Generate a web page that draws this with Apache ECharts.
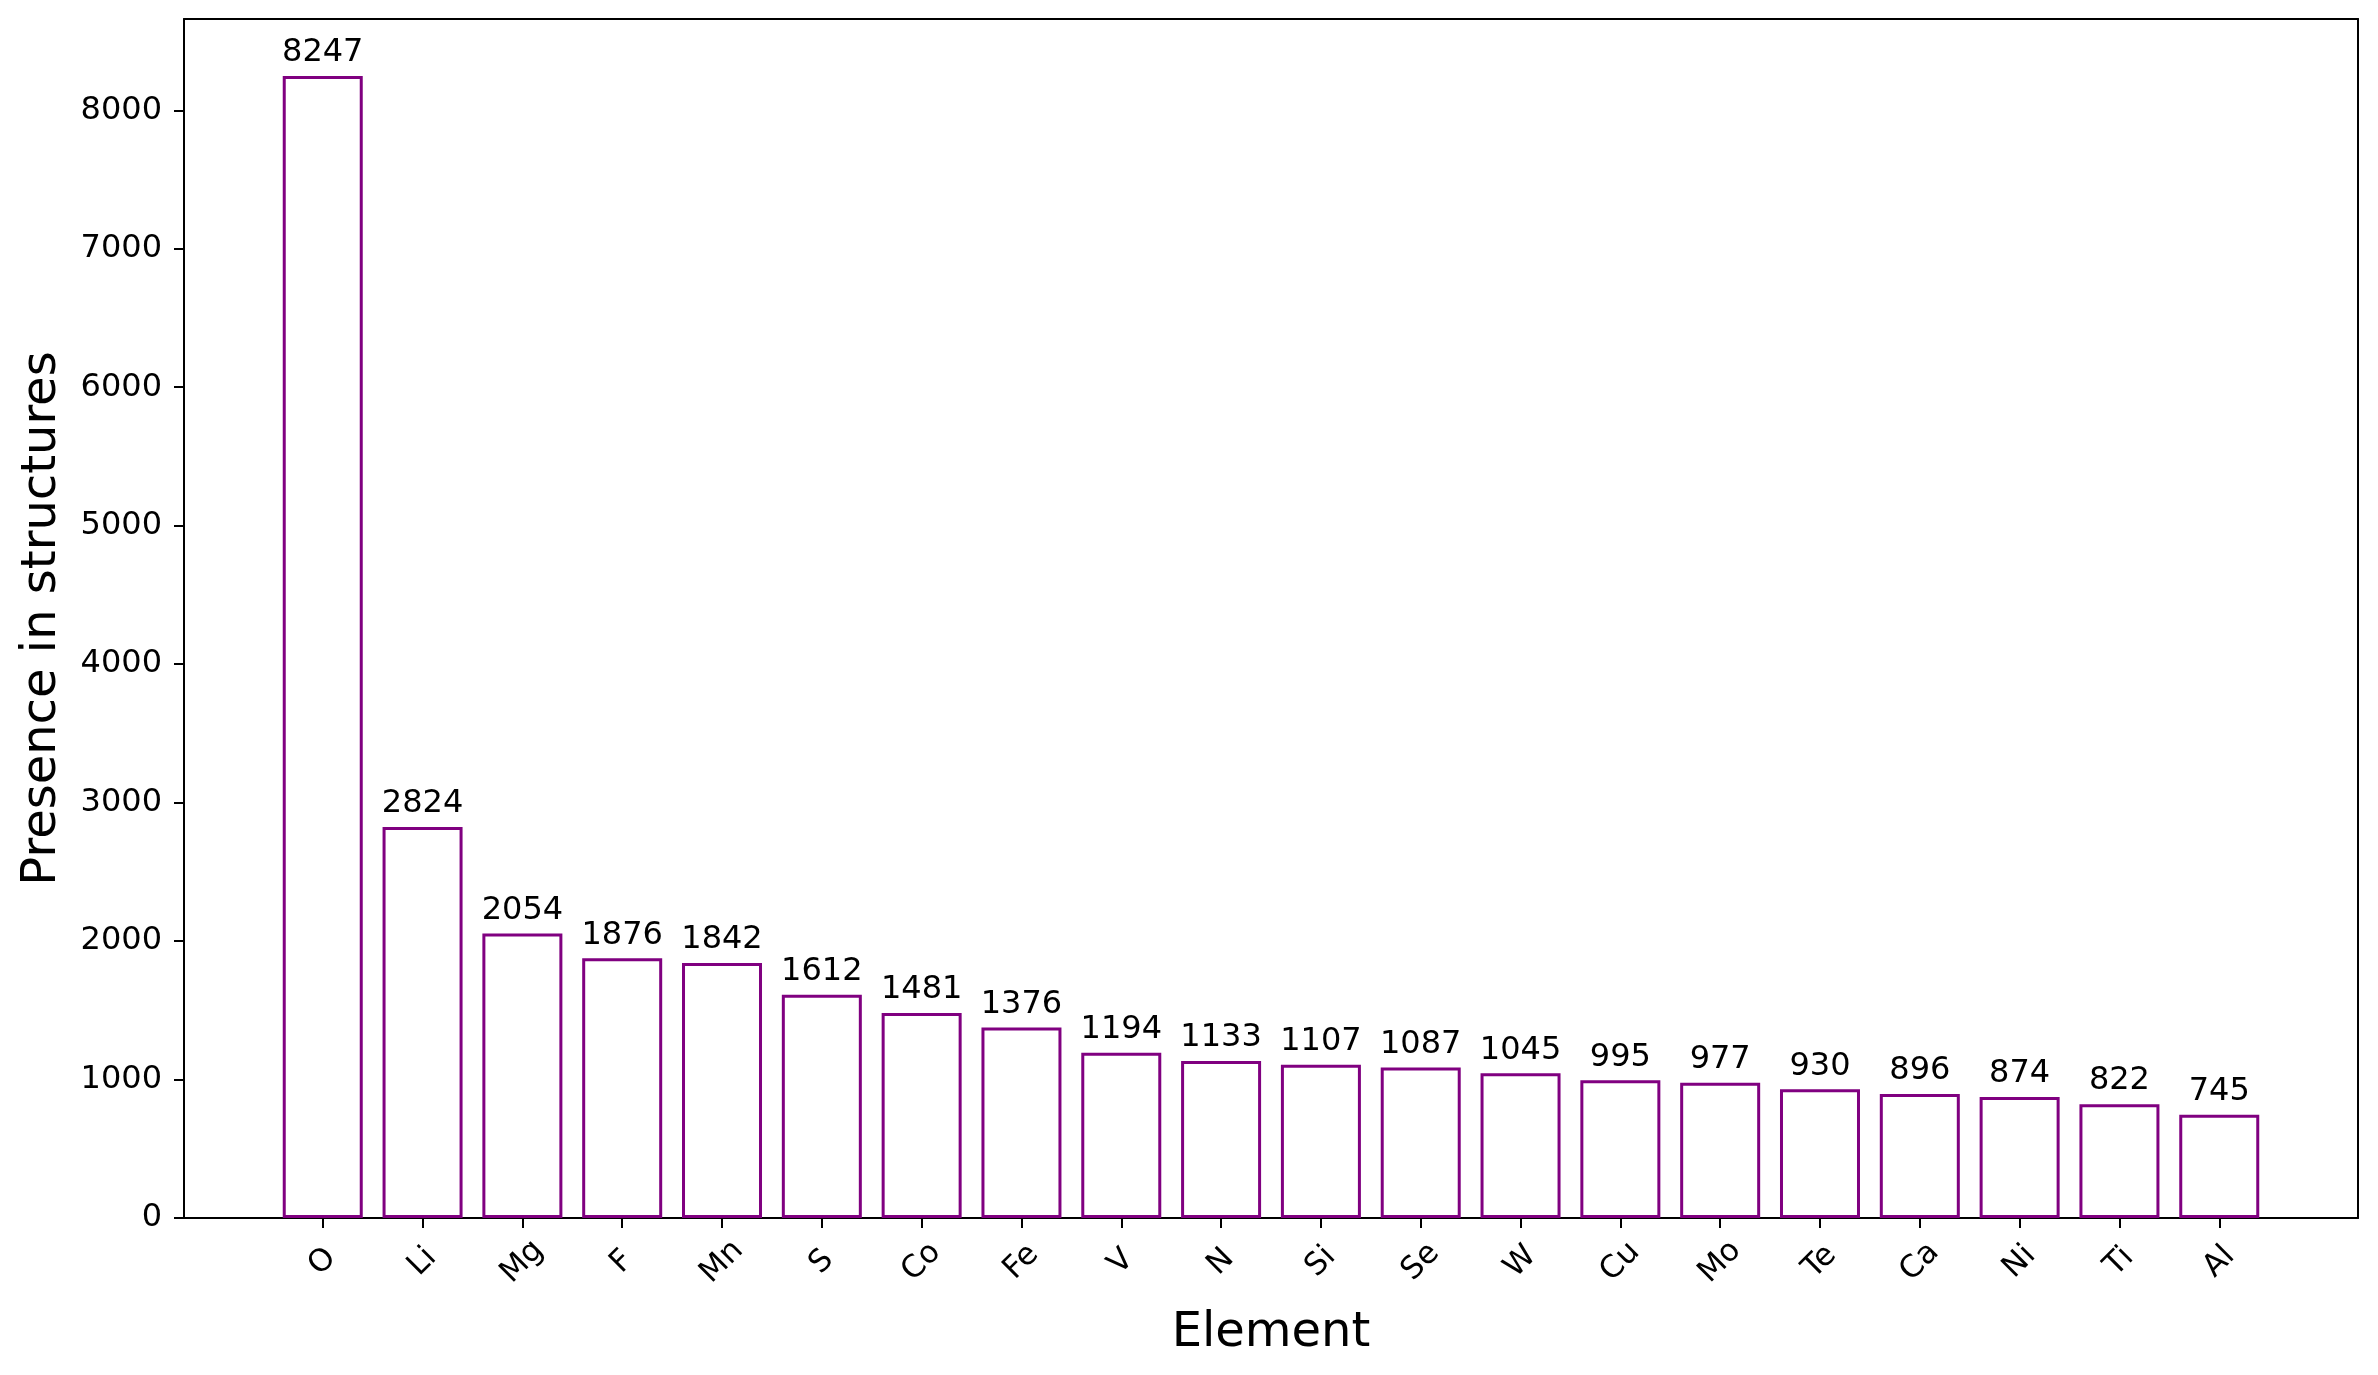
<!DOCTYPE html>
<html>
<head>
<meta charset="utf-8">
<script src="https://cdn.jsdelivr.net/npm/echarts@6/dist/echarts.min.js"></script>
<style>
  html, body { margin: 0; padding: 0; background: #fff; }
  #main { width: 2378px; height: 1375px; }
</style>
</head>
<body>
<div id="main"></div>
<script>
var elements = ['O', 'Li', 'Mg', 'F', 'Mn', 'S', 'Co', 'Fe', 'V', 'N', 'Si', 'Se', 'W', 'Cu', 'Mo', 'Te', 'Ca', 'Ni', 'Ti', 'Al'];
var counts = [8247, 2824, 2054, 1876, 1842, 1612, 1481, 1376, 1194, 1133, 1107, 1087, 1045, 995, 977, 930, 896, 874, 822, 745];
var yTicks = [0, 1000, 2000, 3000, 4000, 5000, 6000, 7000, 8000];

var chart = echarts.init(document.getElementById('main'));

var font = 'DejaVu Sans';
var idx = elements.map(function (e, i) { return i; });
var barData = counts.map(function (v, i) { return [i, v]; });
var yMax = Math.max.apply(null, counts) * 1.05;
var xMin = -1.39, xMax = elements.length - 1 + 1.39;

var option = {
    animation: false,
    backgroundColor: '#ffffff',
    textStyle: { fontFamily: font },
    grid: { left: 184, right: 20, top: 19, bottom: 157 },
    xAxis: [{
        type: 'value',
        min: xMin,
        max: xMax,
        name: 'Element',
        nameLocation: 'middle',
        nameGap: 92,
        nameTextStyle: { fontSize: 48, color: '#000', fontFamily: font },
        splitLine: { show: false },
        axisLine: { show: true, onZero: false, lineStyle: { color: '#000', width: 2 } },
        axisTick: { show: true, length: 10, customValues: idx, lineStyle: { color: '#000', width: 2 } },
        axisLabel: {
            customValues: idx,
            rotate: 45,
            align: 'center',
            verticalAlign: 'middle',
            margin: 44,
            fontSize: 31,
            color: '#000',
            fontFamily: font,
            formatter: function (v) { return elements[Math.round(v)]; }
        }
    }, {
        type: 'value',
        position: 'top',
        min: xMin,
        max: xMax,
        splitLine: { show: false },
        axisLine: { show: true, onZero: false, lineStyle: { color: '#000', width: 2 } },
        axisTick: { show: false },
        axisLabel: { show: false }
    }],
    yAxis: [{
        type: 'value',
        min: 0,
        max: yMax,
        name: 'Presence in structures',
        nameLocation: 'middle',
        nameGap: 117,
        nameTextStyle: { fontSize: 48, color: '#000', fontFamily: font },
        splitLine: { show: false },
        axisLine: { show: true, onZero: false, lineStyle: { color: '#000', width: 2 } },
        axisTick: { show: true, length: 10, customValues: yTicks, lineStyle: { color: '#000', width: 2 } },
        axisLabel: {
            customValues: yTicks, margin: 22, fontSize: 32, color: '#000', fontFamily: font,
            formatter: function (v) { return String(v); }
        }
    }, {
        type: 'value',
        position: 'right',
        min: 0,
        max: yMax,
        splitLine: { show: false },
        axisLine: { show: true, onZero: false, lineStyle: { color: '#000', width: 2 } },
        axisTick: { show: false },
        axisLabel: { show: false }
    }],
    series: [{
        type: 'bar',
        xAxisIndex: 0,
        yAxisIndex: 0,
        data: barData,
        barWidth: 80,
        itemStyle: { color: 'rgba(255,255,255,0)', borderColor: '#800080', borderWidth: 3 },
        label: {
            show: true,
            position: 'top',
            distance: 7,
            fontSize: 32,
            color: '#000',
            fontFamily: font,
            formatter: function (p) { return p.value[1]; }
        }
    }]
};

chart.setOption(option);
</script>
</body>
</html>
